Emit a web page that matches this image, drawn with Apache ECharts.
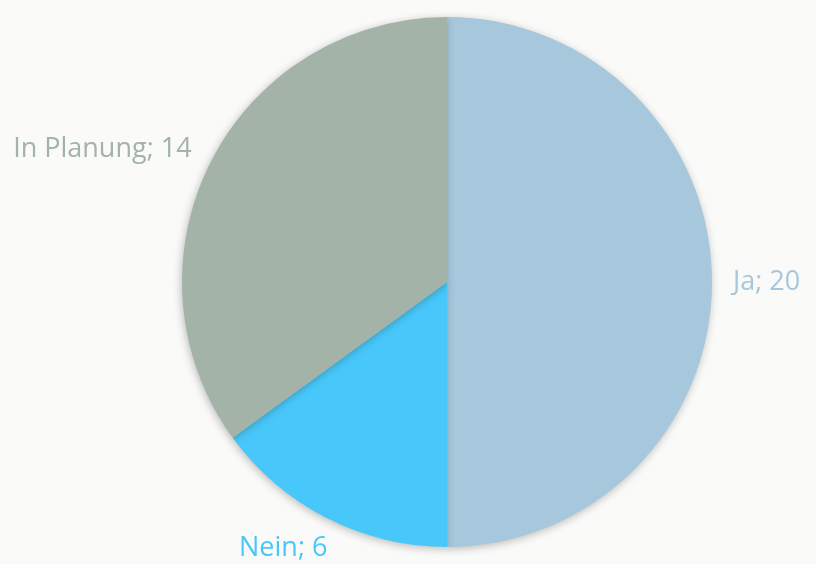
<!DOCTYPE html>
<html><head><meta charset="utf-8">
<script src="https://cdn.jsdelivr.net/npm/echarts@6/dist/echarts.min.js"></script>
<style>html,body{margin:0;padding:0;background:#fafaf8;}#c{width:816px;height:564px;}</style>
</head><body><div id="c"></div>
<script>
const categories = ['Ja', 'Nein', 'In Planung'];
const values = [20, 6, 14];
const colors = ['#a7c7dc', '#48c8fa', '#a3b3a8'];

const chart = echarts.init(document.getElementById('c'));
chart.setOption({
  backgroundColor: '#fafaf8',
  animation: false,
  series: [{
    type: 'pie',
    center: [447, 282],
    radius: [0, 265],
    startAngle: 90,
    clockwise: true,
    data: categories.map((c, i) => ({
      name: c, value: values[i],
      itemStyle: { color: colors[i] },
      label: { color: colors[i] }
    })),
    itemStyle: { shadowBlur: 8, shadowColor: 'rgba(0,0,0,0.25)', shadowOffsetX: -1, shadowOffsetY: 2 },
    label: {
      show: true, position: 'outside',
      formatter: '{b}; {c}',
      fontFamily: 'Open Sans', fontSize: 27
    },
    labelLine: { show: false, length: 16, length2: 0 },
    labelLayout: function (p) {
      if (p.dataIndex === 1) return { dx: 13, dy: 16 };
      if (p.dataIndex === 2) return { dy: -5 };
      return {};
    }
  }]
});
</script></body></html>
